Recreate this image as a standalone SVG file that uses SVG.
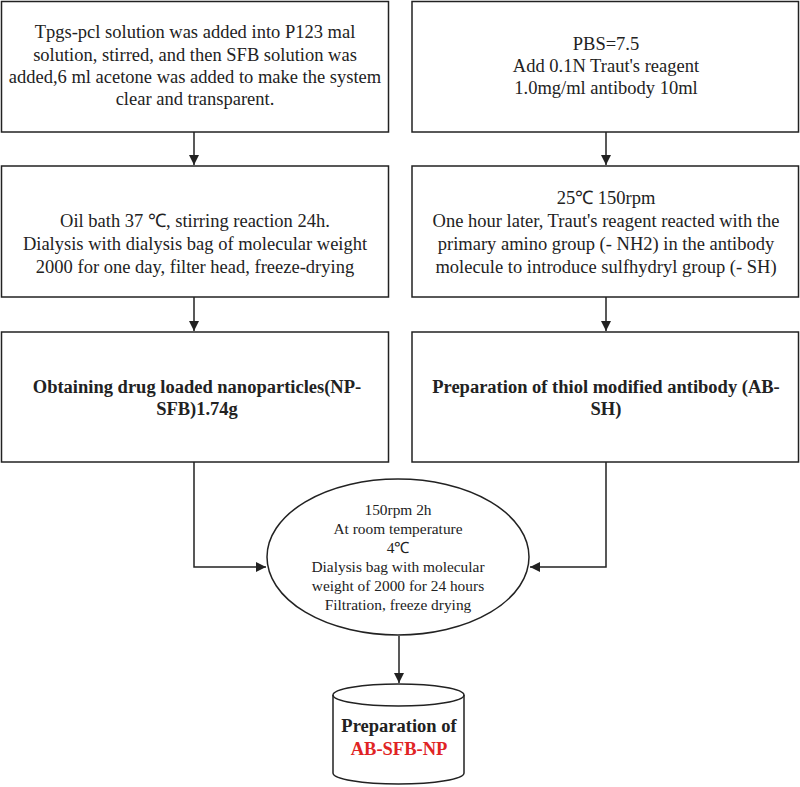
<svg xmlns="http://www.w3.org/2000/svg" width="800" height="787" viewBox="0 0 800 787">
<defs>
<style>
.box{fill:#fff;stroke:#222;stroke-width:1.5}
.t{font-family:"Liberation Serif","Times New Roman",serif;font-size:18.5px;fill:#222;text-anchor:middle}
.b{font-weight:bold}
.s{font-size:15.4px}
.c{fill:none;stroke:#222;stroke-width:1.5}
</style>
<marker id="ah" viewBox="0 0 10 10" refX="10" refY="5" markerWidth="10" markerHeight="10" markerUnits="userSpaceOnUse" orient="auto">
<path d="M0,0 L10,5 L0,10 Z" fill="#222"/>
</marker>
</defs>
<rect width="800" height="787" fill="#fff"/>
<g id="connectors">
<line class="c" x1="194" y1="132" x2="194" y2="165" marker-end="url(#ah)"/>
<line class="c" x1="606" y1="132" x2="606" y2="165" marker-end="url(#ah)"/>
<line class="c" x1="194" y1="297" x2="194" y2="331" marker-end="url(#ah)"/>
<line class="c" x1="606" y1="297" x2="606" y2="331" marker-end="url(#ah)"/>
<polyline class="c" points="194,462 194,567 266,567" marker-end="url(#ah)"/>
<polyline class="c" points="606,462 606,567 530,567" marker-end="url(#ah)"/>
<line class="c" x1="399" y1="636" x2="399" y2="683" marker-end="url(#ah)"/>
</g>
<g id="n1">
<rect class="box" x="1.5" y="1.5" width="387" height="130.5"/>
<text class="t" x="195"><tspan x="195" y="38">Tpgs-pcl solution was added into P123 mal</tspan><tspan x="195" y="61">solution, stirred, and then SFB solution was</tspan><tspan x="195" y="83">added,6 ml acetone was added to make the system</tspan><tspan x="195" y="105">clear and transparent.</tspan></text>
</g>
<g id="n2">
<rect class="box" x="412" y="1.5" width="386.5" height="130.5"/>
<text class="t"><tspan x="606" y="50">PBS=7.5</tspan><tspan x="606" y="72">Add 0.1N Traut's reagent</tspan><tspan x="606" y="94">1.0mg/ml antibody 10ml</tspan></text>
</g>
<g id="n3">
<rect class="box" x="1.5" y="166" width="387" height="131"/>
<text class="t"><tspan x="195" y="227">Oil bath 37 ℃, stirring reaction 24h.</tspan><tspan x="195" y="250">Dialysis with dialysis bag of molecular weight</tspan><tspan x="195" y="273">2000 for one day, filter head, freeze-drying</tspan></text>
</g>
<g id="n4">
<rect class="box" x="412" y="166" width="386.5" height="131"/>
<text class="t"><tspan x="606" y="204">25℃ 150rpm</tspan><tspan x="606" y="227">One hour later, Traut's reagent reacted with the</tspan><tspan x="606" y="250">primary amino group (- NH2) in the antibody</tspan><tspan x="606" y="273">molecule to introduce sulfhydryl group (- SH)</tspan></text>
</g>
<g id="n5">
<rect class="box" x="1.5" y="332" width="387" height="130"/>
<text class="t b"><tspan x="197" y="393">Obtaining drug loaded nanoparticles(NP-</tspan><tspan x="197" y="415">SFB)1.74g</tspan></text>
</g>
<g id="n6">
<rect class="box" x="412" y="332" width="386.5" height="130"/>
<text class="t b"><tspan x="606" y="393">Preparation of thiol modified antibody (AB-</tspan><tspan x="606" y="415">SH)</tspan></text>
</g>
<g id="n7">
<ellipse class="box" cx="398" cy="557" rx="131" ry="78"/>
<text class="t s"><tspan x="398" y="515">150rpm 2h</tspan><tspan x="398" y="534">At room temperature</tspan><tspan x="398" y="553">4℃</tspan><tspan x="398" y="572">Dialysis bag with molecular</tspan><tspan x="398" y="591">weight of 2000 for 24 hours</tspan><tspan x="398" y="610">Filtration, freeze drying</tspan></text>
</g>
<g id="n8">
<path class="box" d="M333,695 L333,773 A65.5,11 0 0 0 464,773 L464,695 A65.5,11 0 0 0 333,695 Z"/>
<path class="c" d="M333,695 A65.5,11 0 0 0 464,695"/>
<text class="t b"><tspan x="399" y="732">Preparation of</tspan><tspan x="399" y="755" fill="#e02424">AB-SFB-NP</tspan></text>
</g>
</svg>
